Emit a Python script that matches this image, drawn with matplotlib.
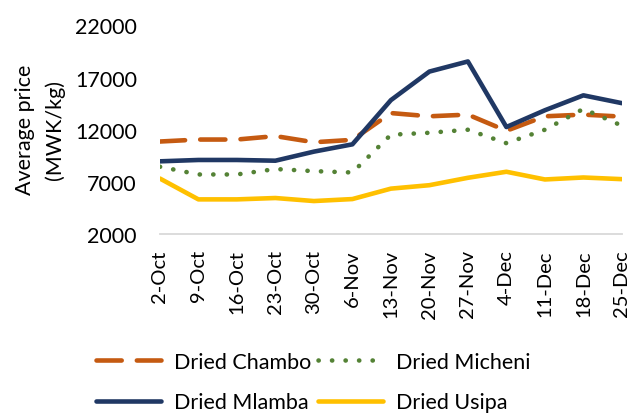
import matplotlib.pyplot as plt

weeks = ["2-Oct", "9-Oct", "16-Oct", "23-Oct", "30-Oct", "6-Nov", "13-Nov",
         "20-Nov", "27-Nov", "4-Dec", "11-Dec", "18-Dec", "25-Dec"]

chambo = [10870, 11060, 11060, 11390, 10800, 11030, 13600,
          13290, 13450, 11900, 13290, 13450, 13260]
micheni = [8450, 7710, 7710, 8230, 8030, 7900, 11520,
           11710, 12000, 10710, 12000, 14000, 12390]
mlamba = [8970, 9100, 9100, 9030, 9900, 10600, 14840,
          17580, 18550, 12260, 13870, 15300, 14550]
usipa = [7320, 5320, 5320, 5450, 5160, 5350, 6350,
         6680, 7390, 7970, 7230, 7420, 7260]

plt.rcParams['font.family'] = ['Lato', 'DejaVu Sans']

fig = plt.figure(figsize=(6.32, 4.14), dpi=100)
ax = fig.add_axes([0.253, 0.4324, 0.731, 0.5036])

x = range(len(weeks))
lw = 3.3
h1, = ax.plot(x, chambo, color="#C55A11", lw=lw, dashes=(5.5, 3.3),
              dash_capstyle="round", label="Dried Chambo")
h2, = ax.plot(x, micheni, color="#548235", lw=lw, dashes=(0.05, 2.9),
              dash_capstyle="round", label="Dried Micheni")
h3, = ax.plot(x, mlamba, color="#203864", lw=lw, solid_capstyle="round",
              label="Dried Mlamba")
h4, = ax.plot(x, usipa, color="#FFC000", lw=lw, solid_capstyle="round",
              label="Dried Usipa")

ax.set_xlim(0, len(weeks) - 1)
ax.set_ylim(2000, 22000)
ax.set_yticks([2000, 7000, 12000, 17000, 22000])
ax.set_xticks(list(x))
ax.set_xticklabels(weeks, rotation=90)
ax.tick_params(axis="both", length=0, labelsize=15.5)
ax.tick_params(axis="x", labelsize=14.5)
ax.tick_params(axis="y", pad=16.5)
ax.tick_params(axis="x", pad=11)

for s in ["top", "right", "left"]:
    ax.spines[s].set_visible(False)
ax.spines["bottom"].set_color("#D9D9D9")
ax.spines["bottom"].set_linewidth(1.3)

fig.text(0.063, 0.686, "Average price\n(MWK/kg)", rotation=90, fontsize=15.5,
         ha="center", va="center", multialignment="center", linespacing=1.55)

# row-major order like the original: Chambo, Micheni / Mlamba, Usipa
fig.legend([h1, h3, h2, h4], ["Dried Chambo", "Dried Mlamba",
                              "Dried Micheni", "Dried Usipa"],
           loc="upper left", bbox_to_anchor=(0.152, 0.148), ncol=2,
           frameon=False, fontsize=15.5, handlelength=3.0, handletextpad=0.6,
           columnspacing=0.35, labelspacing=0.95, borderaxespad=0,
           borderpad=0)

fig.savefig("out.png", dpi=100)
